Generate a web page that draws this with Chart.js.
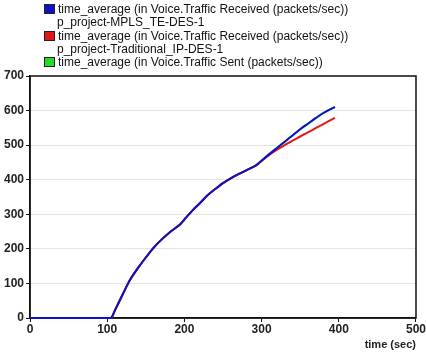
<!DOCTYPE html>
<html>
<head>
<meta charset="utf-8">
<script src="https://cdn.jsdelivr.net/npm/chart.js@4/dist/chart.umd.min.js"></script>
<style>
  html, body { margin: 0; padding: 0; background: #fff; }
  #wrap { position: relative; width: 426px; height: 352px; }
  #legend { position: absolute; left: 44px; top: 3px; font-family: "Liberation Sans", Arial, sans-serif; font-size: 12px; color: #111; line-height: 13.3px; }
  #legend .row { white-space: nowrap; height: 13.3px; }
  #legend .box { display: inline-block; width: 9px; height: 8px; border: 1px solid #222; margin-right: 3px; vertical-align: -1px; }
  #legend .ind { padding-left: 13px; }
  canvas { position: absolute; left: 0; top: 0; }
</style>
</head>
<body>
<div id="wrap">
  <canvas id="c" width="426" height="352"></canvas>
  <div id="legend"></div>
</div>
<script>
// ---- data ----
const times = [0, 100, 105, 110, 120, 130, 140, 150, 160, 170, 180, 190, 195, 200, 210, 220, 230, 240, 250, 260, 270, 280, 290, 295, 300, 310, 320, 330, 340, 350, 360, 370, 380, 390, 395];
const mplsReceived = [0, 0, 0, 22, 68, 112, 145, 175, 203, 226, 246, 263, 272, 285, 310, 332, 355, 373, 390, 404, 416, 427, 438, 445, 455, 474, 492, 510, 528, 546, 562, 578, 593, 605, 610];
const ipReceived   = [0, 0, 0, 22, 68, 112, 145, 175, 203, 226, 246, 263, 272, 285, 310, 332, 355, 373, 390, 404, 416, 427, 438, 445, 455, 472, 487, 500, 513, 525, 537, 549, 561, 573, 579];
const voiceSent    = [0, 0, 0, 22, 68, 112, 145, 175, 203, 226, 246, 263, 272, 285, 310, 332, 355, 373, 390, 404, 416, 427, 438, 445, 455, 474, 492, 510, 528, 546, 562, 578, 593, 605, 611];
const seriesNames = [
  ["time_average (in Voice.Traffic Received (packets/sec))", "p_project-MPLS_TE-DES-1"],
  ["time_average (in Voice.Traffic Received (packets/sec))", "p_project-Traditional_IP-DES-1"],
  ["time_average (in Voice.Traffic Sent (packets/sec))"]
];
const seriesColors = ["#1010c8", "#e01818", "#22dd22"];
const xTicks = [0, 100, 200, 300, 400, 500];
const yTicks = [0, 100, 200, 300, 400, 500, 600, 700];

// ---- legend (HTML text) ----
const legend = document.getElementById('legend');
seriesNames.forEach((lines, i) => {
  lines.forEach((t, j) => {
    const row = document.createElement('div');
    row.className = 'row' + (j > 0 ? ' ind' : '');
    if (j === 0) {
      const b = document.createElement('span');
      b.className = 'box';
      b.style.background = seriesColors[i];
      row.appendChild(b);
    }
    row.appendChild(document.createTextNode(t));
    legend.appendChild(row);
  });
});

const toPts = arr => times.map((t, i) => ({ x: t, y: arr[i] }));

const frame = {
  id: 'frame',
  beforeDatasetsDraw(chart) {
    const a = chart.chartArea, ctx = chart.ctx;
    ctx.save();
    ctx.strokeStyle = '#111';
    ctx.lineWidth = 1.5;
    ctx.strokeRect(a.left, a.top, a.right - a.left, a.bottom - a.top);
    ctx.restore();
  }
};

const tickFont = { family: '"Liberation Sans", Arial, sans-serif', size: 12, weight: 'bold' };

new Chart(document.getElementById('c'), {
  type: 'line',
  data: {
    datasets: [
      { label: seriesNames[2].join(' '), data: toPts(voiceSent), borderColor: seriesColors[2], borderWidth: 2, pointRadius: 0, tension: 0.3, order: 3, clip: 4 },
      { label: seriesNames[1].join(' '), data: toPts(ipReceived), borderColor: seriesColors[1], borderWidth: 2, pointRadius: 0, tension: 0.3, order: 2, clip: 4 },
      { label: seriesNames[0].join(' '), data: toPts(mplsReceived), borderColor: seriesColors[0], borderWidth: 2, pointRadius: 0, tension: 0.3, order: 1, clip: 4 }
    ]
  },
  options: {
    responsive: false,
    animation: false,
    layout: { padding: { top: 76, right: 8, left: 0, bottom: 0 } },
    plugins: { legend: { display: false }, tooltip: { enabled: false } },
    scales: {
      x: {
        type: 'linear', min: 0, max: 500,
        afterBuildTicks: s => { s.ticks = xTicks.map(v => ({ value: v })); },
        afterFit: s => { s.height = 34; },
        grid: { drawOnChartArea: false, drawTicks: true, tickLength: 4, color: '#111' },
        border: { color: '#111', width: 1.5 },
        ticks: { color: '#222', font: tickFont, padding: 0, maxRotation: 0 },
        title: { display: true, text: 'time (sec)', align: 'end', color: '#222', font: { family: '"Liberation Sans", Arial, sans-serif', size: 11, weight: 'bold' }, padding: { top: 0, bottom: 0 } }
      },
      y: {
        min: 0, max: 700,
        afterBuildTicks: s => { s.ticks = yTicks.map(v => ({ value: v })); },
        afterFit: s => { s.width = 30; },
        grid: { color: '#e4e4e4', drawTicks: true, tickLength: 4, tickColor: '#111' },
        border: { color: '#111', width: 1.5 },
        ticks: { color: '#222', font: tickFont, padding: 2 }
      }
    }
  },
  plugins: [frame]
});
</script>
</body>
</html>
